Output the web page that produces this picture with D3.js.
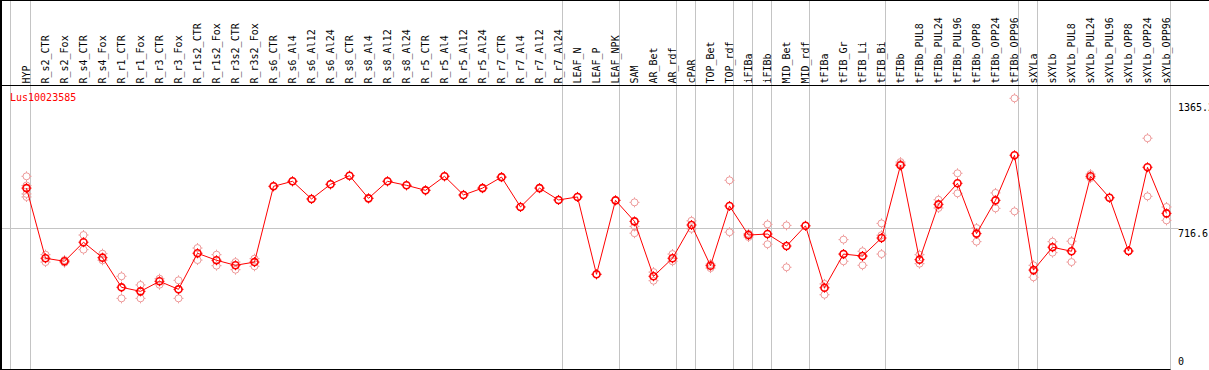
<!DOCTYPE html>
<html>
<head>
<meta charset="utf-8">
<script src="https://cdn.jsdelivr.net/npm/d3@7"></script>
<style>
  body { margin: 0; background: #fff; }
  text { font-family: "DejaVu Sans Mono", monospace; font-size: 10px; }
</style>
</head>
<body>
<div id="chart"></div>
<script>
// sample names (one column each)
var samples = ["HYP", "R_s2_CTR", "R_s2_Fox", "R_s4_CTR", "R_s4_Fox", "R_r1_CTR", "R_r1_Fox",
  "R_r3_CTR", "R_r3_Fox", "R_r1s2_CTR", "R_r1s2_Fox", "R_r3s2_CTR", "R_r3s2_Fox",
  "R_s6_CTR", "R_s6_Al4", "R_s6_Al12", "R_s6_Al24", "R_s8_CTR", "R_s8_Al4", "R_s8_Al12", "R_s8_Al24",
  "R_r5_CTR", "R_r5_Al4", "R_r5_Al12", "R_r5_Al24", "R_r7_CTR", "R_r7_Al4", "R_r7_Al12", "R_r7_Al24",
  "LEAF_N", "LEAF_P", "LEAF_NPK", "SAM", "AR_Bet", "AR_rdf", "cPAR", "TOP_Bet", "TOP_rdf",
  "iFIBa", "iFIBb", "MID_Bet", "MID_rdf", "tFIBa", "tFIB_Gr", "tFIB_Li", "tFIB_Bi", "tFIBb",
  "tFIBb_PUL8", "tFIBb_PUL24", "tFIBb_PUL96", "tFIBb_OPP8", "tFIBb_OPP24", "tFIBb_OPP96",
  "sXYLa", "sXYLb", "sXYLb_PUL8", "sXYLb_PUL24", "sXYLb_PUL96", "sXYLb_OPP8", "sXYLb_OPP24", "sXYLb_OPP96"];

// mean expression per sample
var means = [917, 567, 552, 647, 570, 422, 402, 452, 412, 592, 557, 532, 548,
  926, 951, 863, 936, 979, 866, 951, 931, 906, 976, 883, 917, 972, 823, 917, 858,
  873, 487, 856, 751, 477, 567, 733, 530, 828, 683, 688, 628, 729, 420, 588, 578, 668, 1031,
  560, 836, 941, 690, 856, 1081, 508, 622, 602, 976, 869, 603, 1021, 791];

// individual replicates per sample
var replicates = [[976, 930, 888, 873], [585, 548], [558, 545], [683, 610], [590, 557],
  [477, 367], [434, 367], [465, 435], [457, 367], [618, 558], [585, 530], [548, 510], [565, 527],
  [926], [951], [863], [936], [979], [866], [951], [931], [906], [976], [883], [917], [972], [823], [917], [858],
  [873], [487], [856], [846, 726, 692], [498, 455], [588, 552], [754, 714], [538, 518], [956, 697],
  [690, 673], [736, 637], [731, 522], [729], [439, 385], [660, 552, 588], [602, 532, 578], [741, 682, 588],
  [1047, 1037, 1031], [585, 540], [859, 818], [991, 891], [718, 650], [893, 816], [1365.2, 801],
  [532, 472], [650, 595], [652, 548], [987, 967], [869], [603], [1166, 876], [823, 756]];

// last sample index of each group (separator lines)
var groupEnds = [0, 28, 31, 34, 35, 37, 38, 39, 41, 45, 52, 53, 60];

// right axis labels
var axisValues = [1365.2, 716.6, 0];
var axisLabels = ["1365.2", "716.6", "0"];
var refValue = 716.6;
var geneName = "Lus10023585";

var svgWidth = 1209;
var svgHeight = 370;
var headerBottom = 85.5;

var svg = d3.select("#chart")
  .append("svg")
  .attr("width", svgWidth)
  .attr("height", svgHeight);

// scales
var xScale = d3.scaleLinear()
  .domain([0, samples.length - 1])
  .range([26, 26 + 19 * (samples.length - 1)]);

var yScale = d3.scaleLinear()
  .domain([0, 1365.2])
  .range([371.9, 98.3]);

var plotRight = xScale(samples.length - 1) + 4.5;

// vertical group separators
var sepX = [xScale(0) - 15.5].concat(groupEnds.map(i => xScale(i) + 4.5));
svg.selectAll(".sep")
  .data(sepX)
  .enter()
  .append("line")
  .attr("x1", d => d)
  .attr("x2", d => d)
  .attr("y1", 0)
  .attr("y2", svgHeight)
  .attr("stroke", "#c4c4c4")
  .attr("stroke-width", 1);

// reference line
var refY = Math.round(yScale(refValue)) + 0.5;
svg.append("line")
  .attr("x1", 0)
  .attr("x2", plotRight + 8)
  .attr("y1", refY)
  .attr("y2", refY)
  .attr("stroke", "#c4c4c4");

// frame lines
svg.append("line").attr("x1", 0).attr("x2", svgWidth).attr("y1", 0.5).attr("y2", 0.5).attr("stroke", "#000");
svg.append("line").attr("x1", 0).attr("x2", svgWidth).attr("y1", headerBottom).attr("y2", headerBottom).attr("stroke", "#000");
svg.append("line").attr("x1", 0).attr("x2", plotRight).attr("y1", 369.5).attr("y2", 369.5).attr("stroke", "#000");
svg.append("rect").attr("x", 0).attr("y", 0).attr("width", 2).attr("height", svgHeight).attr("fill", "#000");

// sample labels in the header
svg.selectAll(".lab")
  .data(samples)
  .enter()
  .append("text")
  .attr("transform", (d, i) => "translate(" + (xScale(i) + 0.5) + "," + 83.5 + ") rotate(-90)")
  .attr("dy", "0.35em")
  .attr("fill", "#000")
  .text(d => d);

// gene name
svg.append("text")
  .attr("x", 10)
  .attr("y", 101)
  .attr("fill", "#ff0000")
  .text(geneName);

// right axis labels
var labelOffsets = [12.5, 9, -7];
svg.selectAll(".ax")
  .data(axisValues)
  .enter()
  .append("text")
  .attr("x", plotRight + 7.5)
  .attr("y", (d, i) => yScale(d) + labelOffsets[i])
  .attr("fill", "#000")
  .text((d, i) => axisLabels[i]);

// marker: circle with four small ticks
function marker(g, color, width) {
  g.append("circle")
    .attr("r", 3.5)
    .attr("fill", "none")
    .attr("stroke", color)
    .attr("stroke-width", width);
  [[0, -1], [1, 0], [0, 1], [-1, 0]].forEach(function(v) {
    g.append("line")
      .attr("x1", v[0] * 3.5)
      .attr("y1", v[1] * 3.5)
      .attr("x2", v[0] * 5)
      .attr("y2", v[1] * 5)
      .attr("stroke", color)
      .attr("stroke-width", 1);
  });
}

// replicate points
var repData = [];
replicates.forEach(function(reps, i) {
  reps.forEach(function(v) { repData.push({i: i, v: v}); });
});
svg.selectAll(".rep")
  .data(repData)
  .enter()
  .append("g")
  .attr("transform", d => "translate(" + (xScale(d.i) + 0.5) + "," + yScale(d.v) + ")")
  .each(function() { marker(d3.select(this), "#ee9a9a", 1); });

// mean line
var line = d3.line()
  .x((d, i) => xScale(i) + 0.5)
  .y(d => yScale(d));

svg.append("path")
  .datum(means)
  .attr("d", line)
  .attr("fill", "none")
  .attr("stroke", "#ff0000")
  .attr("stroke-width", 1);

// mean points
svg.selectAll(".mean")
  .data(means)
  .enter()
  .append("g")
  .attr("transform", (d, i) => "translate(" + (xScale(i) + 0.5) + "," + yScale(d) + ")")
  .each(function() { marker(d3.select(this), "#ff0000", 1.6); });
</script>
</body>
</html>
